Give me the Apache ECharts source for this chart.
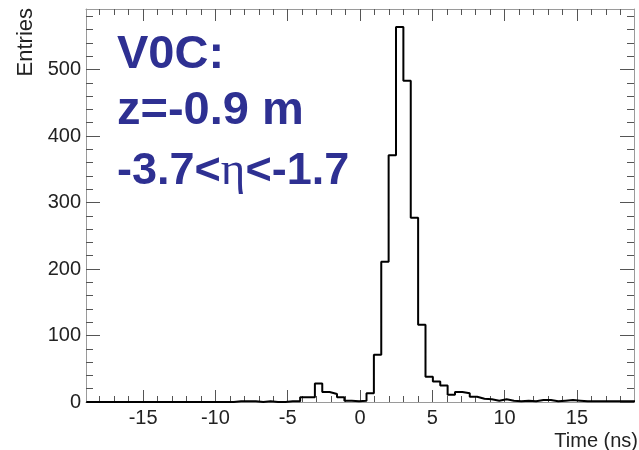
<!DOCTYPE html>
<html><head><meta charset="utf-8">
<script src="https://cdn.jsdelivr.net/npm/echarts@6/dist/echarts.min.js"></script>
<style>html,body{margin:0;padding:0;background:#fff}#c{width:639px;height:450px}</style>
</head><body><div id="c"></div>
<script>
const binStart = -18.93;
const binWidth = 0.51;
const counts = [
  0,0,0,0,0,0,0,0,0,0, 0,0,0,0,0,0,0,0,0,0,
  1,1,1,0,1,0,0,1,1,
  7,7,28,15,12,7,2,1,2,
  13,71,211,371,564,483,277,116,38,31,25,11,15,13,8,5,4,2,4,2,1,2,1,3,3,1,2,3,2,1,1,1,1,1,1,1,1
];
const xMajorTicks = [-15,-10,-5,0,5,10,15];
const xMinorTicks = [-18,-17,-16,-15,-14,-13,-12,-11,-10,-9,-8,-7,-6,-5,-4,-3,-2,-1,0,1,2,3,4,5,6,7,8,9,10,11,12,13,14,15,16,17,18];
const yMajorTicks = [0,100,200,300,400,500];
const yMinorTicks = [20,40,60,80,120,140,160,180,220,240,260,280,320,340,360,380,420,440,460,480,520,540,560,580];
const xMin = -18.95, xMax = 18.95, yMin = 0, yMax = 591;
const xTitle = 'Time (ns)';
const yTitle = 'Entries';
const textLines = ['V0C:', 'z=-0.9 m'];

const pts = [];
counts.forEach((v, k) => {
  const e0 = binStart + k * binWidth;
  pts.push([e0, v]);
  pts.push([e0 + binWidth, v]);
});

const axisGray = '#9a9a9a', tickGray = '#555', labelCol = '#222';
const FONT = 'Liberation Sans, Arial, sans-serif';
function xAx(pos, ticks, len, labels, line) {
  return {type:'value', min:xMin, max:xMax, position:pos, gridIndex:0,
    axisLine:{show:line, onZero:false, lineStyle:{color:axisGray, width:1}},
    axisTick:{show:true, inside:true, length:len, customValues:ticks, lineStyle:{color:tickGray, width:1}},
    axisLabel:labels ? {show:true, customValues:ticks, fontSize:20, color:labelCol, fontFamily:FONT, margin:6} : {show:false},
    splitLine:{show:false}};
}
function yAx(pos, ticks, len, labels, line) {
  return {type:'value', min:yMin, max:yMax, position:pos, gridIndex:0,
    axisLine:{show:line, onZero:false, lineStyle:{color:axisGray, width:1}},
    axisTick:{show:true, inside:true, length:len, customValues:ticks, lineStyle:{color:tickGray, width:1}},
    axisLabel:labels ? {show:true, customValues:ticks, fontSize:20, color:labelCol, fontFamily:FONT, margin:5} : {show:false},
    splitLine:{show:false}};
}
const chart = echarts.init(document.getElementById('c'), null, {renderer:'canvas'});
chart.setOption({
  animation:false,
  backgroundColor:'#fff',
  grid:{left:86, right:5, top:9, bottom:48, containLabel:false},
  xAxis:[
    xAx('bottom', xMajorTicks, 12, true, true),
    xAx('bottom', xMinorTicks, 6, false, false),
    xAx('top', xMajorTicks, 12, false, true),
    xAx('top', xMinorTicks, 6, false, false)
  ],
  yAxis:[
    yAx('left', yMajorTicks, 14, true, true),
    yAx('left', yMinorTicks, 7, false, false),
    yAx('right', yMajorTicks, 14, false, true),
    yAx('right', yMinorTicks, 7, false, false)
  ],
  series:[{type:'line', xAxisIndex:0, yAxisIndex:0, data:pts, showSymbol:false, symbol:'none',
    lineStyle:{color:'#000', width:2}, clip:true, z:5}],
  graphic:[
    {type:'text', right:1, top:431, style:{text:xTitle, font:'20px ' + FONT, fill:labelCol}},
    {type:'text', left:15, top:8, rotation:Math.PI/2, originX:0, originY:0,
      style:{text:yTitle, font:'22px ' + FONT, fill:labelCol, align:'right', verticalAlign:'top'}},
    {type:'text', left:117, top:32, style:{text:textLines[0], font:'bold 47px ' + FONT, fill:'#2e3092'}},
    {type:'text', left:117, top:88, style:{text:textLines[1], font:'bold 47px ' + FONT, fill:'#2e3092'}},
    {type:'text', left:117, top:148, style:{text:'{a|-3.7<}{b|η}{a|<-1.7}',
      rich:{a:{font:'bold 45px ' + FONT, fill:'#2e3092'}, b:{font:'47px Liberation Serif, serif', fill:'#2e3092'}}}}
  ]
});
</script></body></html>
